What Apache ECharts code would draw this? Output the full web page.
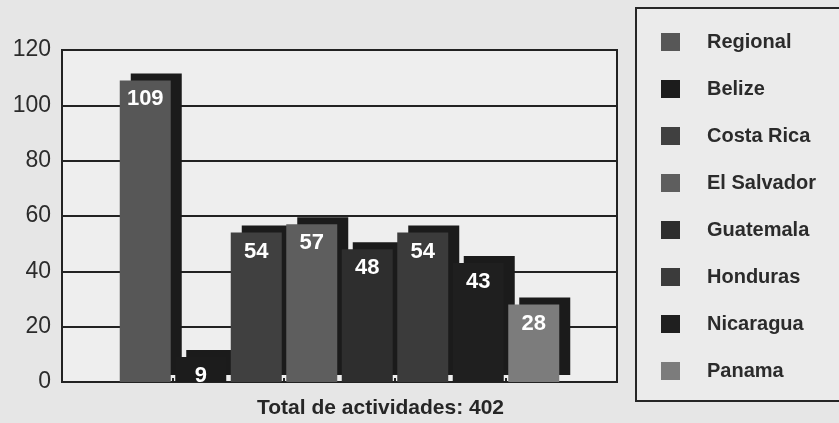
<!DOCTYPE html>
<html>
<head>
<meta charset="utf-8">
<script src="https://cdn.jsdelivr.net/npm/echarts@6/dist/echarts.min.js"></script>
<style>
html,body{margin:0;padding:0;background:#e6e6e6;}
#chart{width:839px;height:423px;}
</style>
</head>
<body>
<div id="chart"></div>
<script>
var countries = ['Regional', 'Belize', 'Costa Rica', 'El Salvador', 'Guatemala', 'Honduras', 'Nicaragua', 'Panama'];
var values = [109, 9, 54, 57, 48, 54, 43, 28];
var barColors = ['#575757', '#1c1c1c', '#404040', '#5e5e5e', '#2e2e2e', '#3b3b3b', '#1f1f1f', '#7c7c7c'];
var yTicks = [0, 20, 40, 60, 80, 100, 120];
var totalLabel = 'Total de actividades: 402';

var FONT = '"Liberation Sans", Arial, Helvetica, sans-serif';
var xCats = [''].concat(countries).concat(['']);

var series = countries.map(function (name, i) {
  return {
    name: name,
    type: 'bar',
    barWidth: 51,
    barGap: '-100%',
    data: xCats.map(function (c, j) { return j === i + 1 ? values[i] : '-'; }),
    itemStyle: {
      color: barColors[i],
      shadowColor: '#1b1b1b',
      shadowBlur: 0,
      shadowOffsetX: 11,
      shadowOffsetY: -7
    },
    label: {
      show: true,
      position: 'insideTop',
      distance: 8,
      color: '#ffffff',
      fontSize: 22,
      fontWeight: 'bold',
      fontFamily: FONT
    },
    z: 2
  };
});

var chart = echarts.init(document.getElementById('chart'), null, {renderer: 'canvas'});
chart.setOption({
  animation: false,
  backgroundColor: '#e6e6e6',
  title: {
    text: totalLabel,
    left: 257,
    top: 398,
    padding: 0,
    textStyle: {fontSize: 21, fontWeight: 'bold', color: '#262626', fontFamily: FONT}
  },
  graphic: [{
    type: 'rect',
    shape: {x: 636, y: 8, width: 220, height: 393},
    style: {fill: '#ebebeb', stroke: '#262626', lineWidth: 2},
    z: -1
  }],
  legend: {
    orient: 'vertical',
    left: 661,
    top: 32,
    padding: 0,
    icon: 'rect',
    itemWidth: 19,
    itemHeight: 18,
    itemGap: 27,
    textStyle: {
      fontSize: 20,
      fontWeight: 'bold',
      color: '#2b2b2b',
      fontFamily: FONT,
      lineHeight: 20,
      padding: [0, 0, 0, 22]
    },
    data: countries
  },
  grid: {
    left: 62, right: 222, top: 50, bottom: 41,
    show: true,
    backgroundColor: '#eeeeee',
    borderColor: '#222222',
    borderWidth: 2
  },
  xAxis: {
    type: 'category',
    data: xCats,
    boundaryGap: true,
    axisLine: {show: true, lineStyle: {color: '#222222', width: 2}},
    axisTick: {show: true, inside: true, length: 4, lineStyle: {color: '#222222', width: 2}},
    axisLabel: {show: false},
    splitLine: {show: false}
  },
  yAxis: {
    type: 'value',
    min: yTicks[0],
    max: yTicks[yTicks.length - 1],
    interval: 20,
    axisLine: {show: true, lineStyle: {color: '#222222', width: 2}},
    axisTick: {show: false},
    axisLabel: {fontSize: 23, color: '#2b2b2b', fontFamily: FONT, margin: 11},
    splitLine: {show: true, lineStyle: {color: '#222222', width: 2}}
  },
  series: series
});
</script>
</body>
</html>
